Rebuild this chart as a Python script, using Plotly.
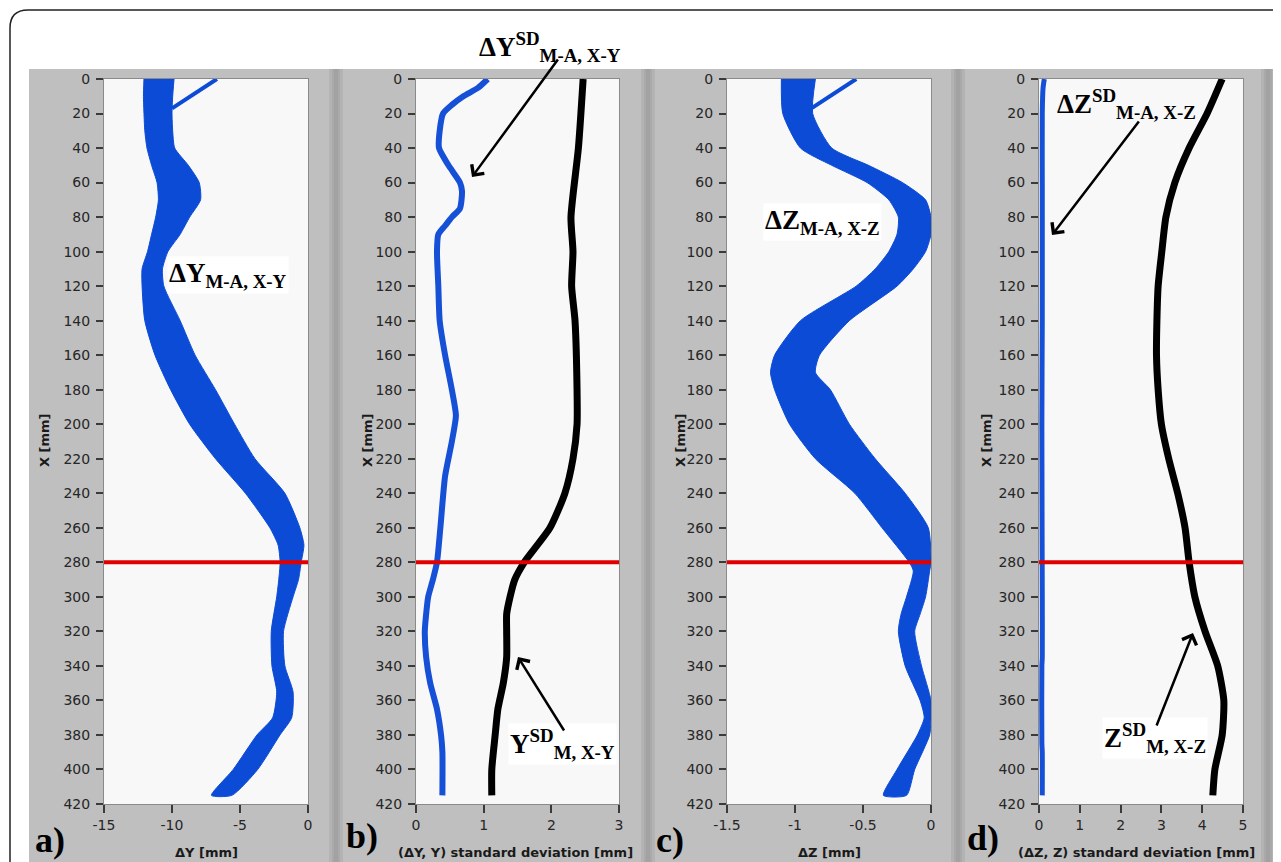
import plotly.graph_objects as go

W, H = 1281, 862
OFF = 8  # browser body margin: shift the drawing so it lands where the reference is

# ---------------- data ----------------
# Panel a: band of dY curves (left / right envelope), X in mm
a_X = [0, 10, 20, 30, 40, 50, 60, 70, 80, 90, 100, 110, 120, 140, 160, 180, 200,
       220, 240, 260, 270, 280, 290, 300, 320, 340, 355, 370, 380, 400, 415]
a_left = [-12.06, -12.1, -12.06, -12.0, -11.84, -11.5, -11.1, -11.0, -11.2, -11.5,
          -11.8, -12.2, -12.2, -12.0, -11.25, -10.1, -8.7, -6.8, -4.6, -2.8, -2.2,
          -2.05, -2.15, -2.3, -2.7, -2.65, -2.3, -2.6, -3.75, -5.5, -7.1]
a_right = [-9.85, -9.95, -10.0, -9.95, -9.8, -8.8, -8.0, -7.9, -8.7, -9.4, -10.3,
           -10.7, -10.6, -9.4, -8.3, -6.8, -5.4, -3.9, -1.7, -0.6, -0.3, -0.5,
           -0.7, -1.1, -1.8, -1.7, -1.1, -1.2, -2.06, -3.7, -5.6]
a_out_X = [0, 17]
a_out_v = [-6.7, -10.0]

# Panel b: SD of dY (blue) and SD of Y (black)
b_blue_X = [0, 5, 10, 15, 20, 30, 40, 50, 60, 65, 75, 80, 85, 90, 100, 120, 140,
            160, 180, 195, 210, 230, 260, 280, 290, 300, 310, 320, 335, 350, 365,
            380, 390, 415]
b_blue = [1.06, 0.92, 0.70, 0.53, 0.40, 0.35, 0.34, 0.48, 0.65, 0.68, 0.65, 0.53,
          0.43, 0.33, 0.31, 0.33, 0.35, 0.43, 0.53, 0.59, 0.53, 0.43, 0.36, 0.31,
          0.25, 0.18, 0.15, 0.13, 0.15, 0.21, 0.31, 0.37, 0.39, 0.39]
b_black_X = [0, 40, 80, 100, 120, 140, 180, 200, 220, 240, 260, 280, 290, 300, 310,
             320, 335, 350, 365, 380, 400, 415]
b_black = [2.47, 2.40, 2.29, 2.32, 2.30, 2.35, 2.38, 2.38, 2.32, 2.20, 1.98, 1.60,
           1.46, 1.39, 1.34, 1.34, 1.34, 1.29, 1.21, 1.17, 1.12, 1.12]

# Panel c: band of dZ curves
c_X = [0, 20, 40, 50, 60, 70, 80, 90, 100, 110, 120, 140, 160, 170, 180, 200, 220,
       240, 260, 280, 285, 300, 310, 320, 340, 360, 370, 380, 400, 415]
c_left = [-1.10, -1.09, -0.96, -0.73, -0.47, -0.31, -0.24, -0.25, -0.31, -0.41,
          -0.55, -0.96, -1.15, -1.18, -1.15, -1.04, -0.85, -0.56, -0.36, -0.16,
          -0.13, -0.18, -0.22, -0.24, -0.19, -0.08, -0.05, -0.10, -0.25, -0.35]
c_right = [-0.85, -0.87, -0.73, -0.46, -0.21, -0.04, 0.0, 0.0, -0.04, -0.13, -0.25,
           -0.60, -0.82, -0.85, -0.74, -0.60, -0.41, -0.19, -0.02, 0.0, -0.01,
           -0.04, -0.08, -0.12, -0.07, 0.0, 0.0, -0.01, -0.12, -0.18]
c_out_X = [0, 17]
c_out_v = [-0.55, -0.88]

# Panel d: SD of dZ (blue) and SD of Z (black)
d_blue_X = [0, 5, 20, 60, 140, 200, 300, 335, 340, 385, 390, 415]
d_blue = [0.13, 0.10, 0.08, 0.08, 0.08, 0.07, 0.08, 0.08, 0.07, 0.07, 0.08, 0.08]
d_black_X = [0, 20, 40, 60, 80, 100, 120, 140, 160, 180, 200, 220, 240, 260, 280,
             300, 320, 340, 360, 380, 400, 415]
d_black = [4.49, 4.12, 3.68, 3.33, 3.11, 3.01, 2.92, 2.89, 2.88, 2.92, 3.00, 3.18,
           3.40, 3.58, 3.68, 3.82, 4.07, 4.38, 4.53, 4.49, 4.31, 4.26]

marker_X = 280  # red reference line

# axis ticks
y_ticks = list(range(0, 421, 20))
a_ticks = [-15, -10, -5, 0]
a_ticktext = ["-15", "-10", "-5", "0"]
b_ticks = [0, 1, 2, 3]
b_ticktext = ["0", "1", "2", "3"]
c_ticks = [-1.5, -1, -0.5, 0]
c_ticktext = ["-1.5", "-1", "-0.5", "0"]
d_ticks = [0, 1, 2, 3, 4, 5]
d_ticktext = ["0", "1", "2", "3", "4", "5"]

# ---------------- layout geometry (reference pixels) ----------------
PLOT_TOP, PLOT_BOT = 79, 804
panels = [  # plot-area left/right, x range, ticks
    dict(l=104, r=308, rng=[-15, 0], tv=a_ticks, tt=a_ticktext),
    dict(l=416, r=619, rng=[0, 3], tv=b_ticks, tt=b_ticktext),
    dict(l=727, r=931, rng=[-1.5, 0], tv=c_ticks, tt=c_ticktext),
    dict(l=1039, r=1243, rng=[0, 5], tv=d_ticks, tt=d_ticktext),
]


def fx(px):
    return (px - OFF) / W


def fy(py):
    return 1 - (py - OFF) / H


BAND = "#0b4bd6"
BLUE = "#1550d6"
BLACK = "#000000"

fig = go.Figure()


def band(X, left, right, n):
    fig.add_trace(go.Scatter(
        x=left + right[::-1], y=X + X[::-1], mode="lines", fill="toself",
        fillcolor=BAND, line=dict(color=BAND, width=1, shape="spline", smoothing=0.6),
        xaxis="x" + ("" if n == 1 else str(n)), yaxis="y" + ("" if n == 1 else str(n)),
        hoverinfo="skip", showlegend=False))


def line(X, v, n, color, width):
    fig.add_trace(go.Scatter(
        x=v, y=X, mode="lines",
        line=dict(color=color, width=width, shape="spline", smoothing=0.6),
        xaxis="x" + ("" if n == 1 else str(n)), yaxis="y" + ("" if n == 1 else str(n)),
        hoverinfo="skip", showlegend=False))


band(a_X, a_left, a_right, 1)
line(a_out_X, a_out_v, 1, BAND, 4)
line(b_blue_X, b_blue, 2, BLUE, 6)
line(b_black_X, b_black, 2, BLACK, 7)
band(c_X, c_left, c_right, 3)
line(c_out_X, c_out_v, 3, BAND, 4)
line(d_blue_X, d_blue, 4, BLUE, 5)
line(d_black_X, d_black, 4, BLACK, 7)

tickfont = dict(family="DejaVu Sans", size=14, color="#262626")
layout = dict(width=W, height=H,
              margin=dict(l=0, r=0, t=0, b=0, pad=0, autoexpand=False),
              paper_bgcolor="white", plot_bgcolor="rgba(0,0,0,0)",
              showlegend=False, template="none")

for i, p in enumerate(panels, start=1):
    sx = "" if i == 1 else str(i)
    layout["xaxis" + sx] = dict(
        domain=[fx(p["l"]), fx(p["r"])], range=p["rng"], anchor="y" + sx,
        tickmode="array", tickvals=p["tv"], ticktext=p["tt"], ticks="outside",
        ticklen=8, tickwidth=1.5, tickcolor="#3a3a3a", tickfont=tickfont,
        showgrid=False, zeroline=False, showline=True, linecolor="#8a8a8a",
        linewidth=1, mirror=True, fixedrange=True, automargin=False)
    layout["yaxis" + sx] = dict(
        domain=[fy(PLOT_BOT), fy(PLOT_TOP)], range=[420, 0], anchor="x" + sx,
        tickmode="array", tickvals=y_ticks, ticks="outside", ticklen=7,
        tickwidth=1.5, tickcolor="#3a3a3a", tickfont=tickfont, ticklabelstandoff=3,
        showgrid=False, zeroline=False, showline=True, linecolor="#8a8a8a",
        linewidth=1, mirror=True, fixedrange=True, automargin=False)

shapes = []
# gray panel backgrounds
shapes.append(dict(type="rect", xref="paper", yref="paper", layer="below",
                   x0=fx(29), x1=1, y0=0, y1=fy(69),
                   fillcolor="#bfbfbf", line=dict(width=0)))
# darker stripes between panels
for c in [336, 648, 958, 1268]:
    for (d0, d1, col) in [(-7, -4, "#b3b3b3"), (-4, -2, "#a9a9a9"), (-2, 2, "#a2a2a2"),
                          (2, 4, "#a9a9a9"), (4, 7, "#b3b3b3")]:
        shapes.append(dict(type="rect", xref="paper", yref="paper", layer="below",
                           x0=fx(c + d0), x1=fx(c + d1), y0=0, y1=fy(69),
                           fillcolor=col, line=dict(width=0)))
# white plot areas
for p in panels:
    shapes.append(dict(type="rect", xref="paper", yref="paper", layer="below",
                       x0=fx(p["l"]), x1=fx(p["r"] + 1), y0=fy(PLOT_BOT), y1=fy(PLOT_TOP),
                       fillcolor="#f8f8f8", line=dict(width=0)))
# red reference lines
for i in range(1, 5):
    sx = "" if i == 1 else str(i)
    shapes.append(dict(type="line", xref="x" + sx + " domain", yref="y" + sx,
                       x0=0, x1=1, y0=marker_X, y1=marker_X, layer="above",
                       line=dict(color="#e00000", width=4)))
# outer rounded frame
path = (f"M {fx(10)},0 L {fx(10)},{fy(28)} "
        f"Q {fx(10)},{fy(10)} {fx(28)},{fy(10)} L 1,{fy(10)}")
shapes.append(dict(type="path", xref="paper", yref="paper", path=path,
                   line=dict(color="#222222", width=1.5), layer="above"))
layout["shapes"] = shapes

serif = "Liberation Serif"
ann = []


def text(px, py, s, size=27, bg="white", xanchor="center", angle=0, family=serif,
         color="black"):
    ann.append(dict(xref="paper", yref="paper", x=fx(px), y=fy(py), text=s,
                    showarrow=False, xanchor=xanchor, yanchor="middle",
                    textangle=angle, bgcolor=bg,
                    font=dict(family=family, size=size, color=color)))


def arrow(hx, hy, tx, ty):
    ann.append(dict(xref="paper", yref="paper", x=fx(hx), y=fy(hy), ax=tx - hx,
                    ay=ty - hy, axref="pixel", ayref="pixel", text="",
                    showarrow=True, arrowhead=4, arrowsize=1.2, arrowwidth=2.5,
                    arrowcolor="black", standoff=0, startstandoff=0))


# curve labels
text(228, 275, "<b>ΔY<sub>M-A, X-Y</sub></b>")
text(550, 47, "<b>ΔY<sup>SD</sup><sub>M-A, X-Y</sub></b>", bg="rgba(0,0,0,0)")
text(562, 744, "<b>Y<sup>SD</sup><sub>M, X-Y</sub></b>")
text(822, 222, "<b>ΔZ<sub>M-A, X-Z</sub></b>")
text(1126, 104, "<b>ΔZ<sup>SD</sup><sub>M-A, X-Z</sub></b>", bg="rgba(0,0,0,0)")
text(1155, 738, "<b>Z<sup>SD</sup><sub>M, X-Z</sub></b>")

arrow(472, 177, 559, 58)
arrow(518, 657, 565, 732)
arrow(1052, 235, 1140, 120)
arrow(1193, 633, 1156, 727)

# panel letters
text(50, 840, "<b>a)</b>", size=36, bg="rgba(0,0,0,0)")
text(362, 836, "<b>b)</b>", size=36, bg="rgba(0,0,0,0)")
text(670, 840, "<b>c)</b>", size=36, bg="rgba(0,0,0,0)")
text(983, 838, "<b>d)</b>", size=36, bg="rgba(0,0,0,0)")

# axis titles
sans = "DejaVu Sans"
for (px, s) in [(206, "ΔY [mm]"), (515, "(ΔY, Y) standard deviation [mm]"),
                (829, "ΔZ [mm]"), (1136, "(ΔZ, Z) standard deviation [mm]")]:
    text(px, 852, f"<b>{s}</b>", size=13, bg="rgba(0,0,0,0)", family=sans,
         color="#1a1a1a")
for px in [44, 367, 680, 986]:
    text(px, 440, "<b>X [mm]</b>", size=13, bg="rgba(0,0,0,0)", family=sans,
         angle=-90, color="#1a1a1a")

layout["annotations"] = ann
fig.update_layout(**layout)
fig.write_html("out.html")
